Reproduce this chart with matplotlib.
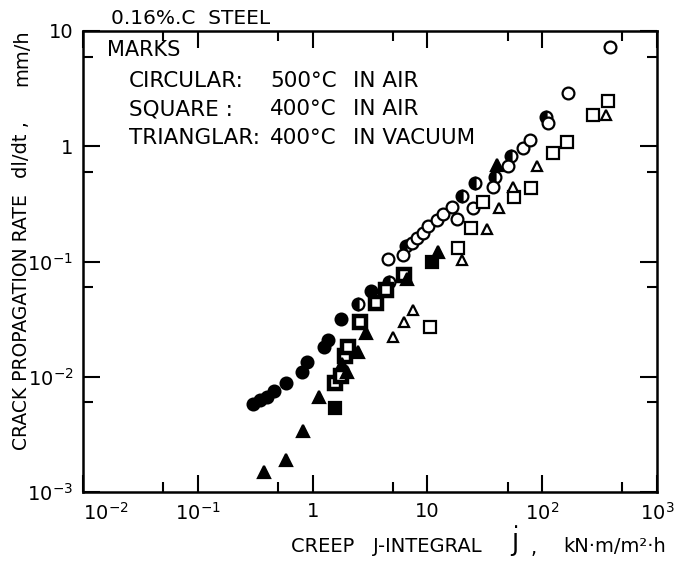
import matplotlib.pyplot as plt
import matplotlib.ticker as mticker
import numpy as np

# circular marks: 500 C in air
circ_filled_j = [0.30, 0.35, 0.40, 0.46, 0.59, 0.81, 0.89, 1.25, 1.36, 1.77, 3.2]
circ_filled_r = [0.0058, 0.0063, 0.0067, 0.0075, 0.0088, 0.0109, 0.0134, 0.018, 0.021, 0.032, 0.055]
circ_half_j = [2.5, 4.6, 6.5, 20, 26, 39, 53, 108]
circ_half_r = [0.043, 0.067, 0.137, 0.37, 0.48, 0.54, 0.83, 1.81]
circ_open_j = [4.5, 6.1, 7.3, 8.1, 9.1, 10.1, 12.1, 13.7, 16.5, 18, 25, 37, 50, 68, 78, 113, 168, 390]
circ_open_r = [0.106, 0.115, 0.145, 0.16, 0.178, 0.205, 0.23, 0.26, 0.30, 0.235, 0.29, 0.44, 0.67,
               0.97, 1.14, 1.6, 2.9, 7.3]

# square marks: 400 C in air
sq_filled_j = [1.57, 11]
sq_filled_r = [0.0054, 0.1]
sq_dot_j = [1.57, 1.75, 1.9, 2.03, 2.6, 3.6, 4.4, 6.2]
sq_dot_r = [0.0089, 0.0101, 0.015, 0.018, 0.030, 0.044, 0.057, 0.077]
sq_open_j = [10.5, 18.5, 24, 30.5, 57, 80, 124, 164, 277, 374]
sq_open_r = [0.027, 0.132, 0.197, 0.33, 0.36, 0.43, 0.88, 1.08, 1.88, 2.48]

# triangular marks: 400 C in vacuum
tri_filled_j = [0.38, 0.59, 0.82, 1.14, 1.8, 2.0, 2.5, 2.9, 6.6, 12.4, 40]
tri_filled_r = [0.0015, 0.0019, 0.0034, 0.0067, 0.0128, 0.011, 0.0165, 0.024, 0.07, 0.12, 0.69]
tri_open_j = [5, 6.3, 7.5, 20, 33, 42, 56, 90, 360]
tri_open_r = [0.022, 0.030, 0.038, 0.104, 0.19, 0.29, 0.44, 0.68, 1.88]

xticks = [1e-2, 1e-1, 1, 10, 1e2, 1e3]
xticklabels = ['$10^{-2}$', '$10^{-1}$', '1', '10', '$10^{2}$', '$10^{3}$']
yticks = [1e-3, 1e-2, 1e-1, 1, 10]
yticklabels = ['$10^{-3}$', '$10^{-2}$', '$10^{-1}$', '1', '10']

plt.rcParams['font.family'] = 'DejaVu Sans'
plt.rcParams['mathtext.fontset'] = 'dejavusans'

W, H = 675, 564
fig = plt.figure(figsize=(6.75, 5.64), dpi=100)
ax = fig.add_axes([83 / W, 1 - 492 / H, (657 - 83) / W, (492 - 31) / H])

ms = 8.5
ew = 1.6
ax.plot(circ_filled_j, circ_filled_r, 'o', ms=ms, color='black', mew=ew)
ax.plot(circ_half_j, circ_half_r, 'o', ms=ms, mfc='black', mec='black', mew=ew,
        fillstyle='left', markerfacecoloralt='white')
ax.plot(circ_open_j, circ_open_r, 'o', ms=ms, mfc='white', mec='black', mew=ew)

ax.plot(sq_filled_j, sq_filled_r, 's', ms=ms - 0.5, color='black', mew=ew)
ax.plot(sq_dot_j, sq_dot_r, 's', ms=ms - 0.5, mfc='white', mec='black', mew=3.2)
ax.plot(sq_open_j, sq_open_r, 's', ms=ms - 0.5, mfc='white', mec='black', mew=ew)

ax.plot(tri_filled_j, tri_filled_r, '^', ms=ms, color='black', mew=ew)
ax.plot(tri_open_j, tri_open_r, '^', ms=ms - 1, mfc='white', mec='black', mew=ew)

ax.set_xscale('log')
ax.set_yscale('log')
ax.set_xlim(1e-2, 1e3)
ax.set_ylim(1e-3, 10)

ax.set_xticks(xticks)
ax.set_xticklabels(xticklabels)
ax.set_yticks(yticks)
ax.set_yticklabels(yticklabels)
ax.get_xticklabels()[0].set_horizontalalignment('left')
ax.xaxis.set_minor_locator(mticker.FixedLocator([5 * 10.0 ** k for k in range(-2, 3)]))
ax.yaxis.set_minor_locator(mticker.FixedLocator([6 * 10.0 ** k for k in range(-3, 1)]))
ax.xaxis.set_minor_formatter(mticker.NullFormatter())
ax.yaxis.set_minor_formatter(mticker.NullFormatter())

ax.tick_params(which='both', direction='in', top=True, right=True, width=1.5, labelsize=14, pad=7)
ax.tick_params(which='major', length=12)
ax.tick_params(which='minor', length=7)
for s in ax.spines.values():
    s.set_linewidth(1.8)


def px(x, y, s, **kw):
    fig.text(x / W, 1 - y / H, s, va='center', **kw)


# axis titles
px(482, 546, 'CREEP   J-INTEGRAL', fontsize=14, ha='right')
px(515, 542, r'$\dot{\mathrm{J}}$', fontsize=17, ha='center')
px(534, 548, ',', fontsize=14, ha='center')
px(563, 546, 'kN\u00b7m/m\u00b2\u00b7h', fontsize=14, ha='left')

px(22, 322, 'CRACK PROPAGATION RATE', fontsize=13.5, ha='center', rotation=90)
px(22, 150, 'dl/dt ,', fontsize=14, ha='center', rotation=90)
px(22, 58, 'mm/h', fontsize=14, ha='center', rotation=90)

# header and marks legend
px(111, 18, '0.16%.C  STEEL', fontsize=14.5, ha='left')
px(107, 50, 'MARKS', fontsize=15, ha='left')
for y, name, temp, env in [(81, 'CIRCULAR:', '500\u00b0C', 'IN AIR'),
                           (109, 'SQUARE :', '400\u00b0C', 'IN AIR'),
                           (138, 'TRIANGLAR:', '400\u00b0C', 'IN VACUUM')]:
    px(129, y, name, fontsize=15.5, ha='left')
    px(270, y, temp, fontsize=15.5, ha='left')
    px(353, y, env, fontsize=15.5, ha='left')

fig.savefig('out.png', dpi=100)
